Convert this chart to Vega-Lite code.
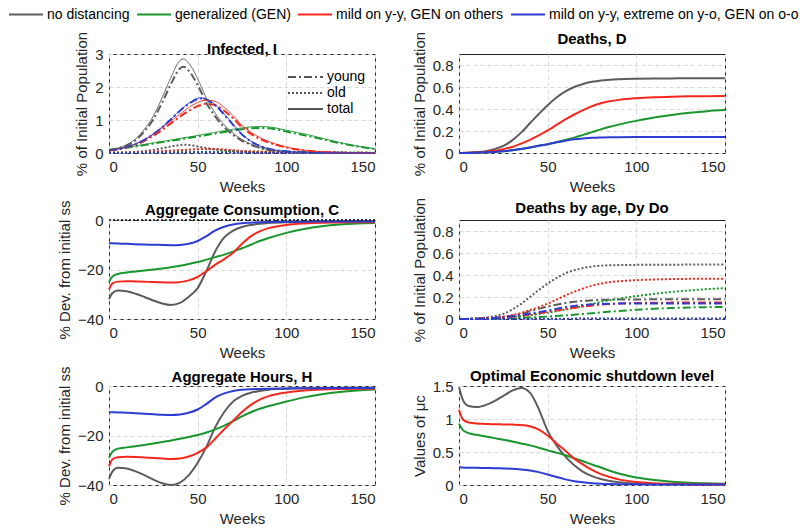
{
"$schema": "https://vega.github.io/schema/vega-lite/v6.json",
"background": "white",
"padding": {"left": 8, "top": -4, "right": 0, "bottom": 0},
"config": {
  "font": "Liberation Sans",
  "view": {"stroke": "#262626", "strokeWidth": 1},
  "axis": {"labelFont": "Liberation Sans", "labelFontSize": 15, "labelColor": "#262626", "titleFont": "Liberation Sans", "titleFontSize": 15, "titleFontWeight": "normal", "titleColor": "#262626", "gridColor": "#d9d9d9", "gridDash": [4, 3], "domain": false, "ticks": false, "labelPadding": 6, "titlePadding": 5},
  "title": {"font": "Liberation Sans", "fontSize": 15, "fontWeight": "bold", "color": "#000000", "offset": 4},
  "line": {"interpolate": "monotone", "strokeWidth": 2}
},
"datasets": {
  "inf": [
    {"s":"nd","w":0,"young":0.09,"old":0.01,"total":0.1},
    {"s":"nd","w":5,"young":0.14,"old":0.013,"total":0.15},
    {"s":"nd","w":10,"young":0.23,"old":0.02,"total":0.25},
    {"s":"nd","w":15,"young":0.39,"old":0.035,"total":0.43},
    {"s":"nd","w":20,"young":0.66,"old":0.06,"total":0.72},
    {"s":"nd","w":25,"young":1.02,"old":0.095,"total":1.12},
    {"s":"nd","w":30,"young":1.53,"old":0.145,"total":1.68},
    {"s":"nd","w":35,"young":2.1,"old":0.2,"total":2.3},
    {"s":"nd","w":40,"young":2.56,"old":0.24,"total":2.8},
    {"s":"nd","w":42,"young":2.61,"old":0.25,"total":2.85},
    {"s":"nd","w":45,"young":2.49,"old":0.24,"total":2.72},
    {"s":"nd","w":50,"young":2.06,"old":0.2,"total":2.25},
    {"s":"nd","w":55,"young":1.51,"old":0.15,"total":1.65},
    {"s":"nd","w":60,"young":1.1,"old":0.11,"total":1.2},
    {"s":"nd","w":65,"young":0.78,"old":0.08,"total":0.85},
    {"s":"nd","w":70,"young":0.55,"old":0.055,"total":0.6},
    {"s":"nd","w":75,"young":0.37,"old":0.038,"total":0.41},
    {"s":"nd","w":80,"young":0.25,"old":0.025,"total":0.27},
    {"s":"nd","w":85,"young":0.155,"old":0.016,"total":0.17},
    {"s":"nd","w":90,"young":0.09,"old":0.01,"total":0.1},
    {"s":"nd","w":100,"young":0.036,"old":0.004,"total":0.04},
    {"s":"nd","w":110,"young":0.014,"old":0.002,"total":0.015},
    {"s":"nd","w":120,"young":0.005,"old":0.001,"total":0.005},
    {"s":"nd","w":150,"young":0,"old":0,"total":0},
    {"s":"gen","w":0,"young":0.095,"old":0.005,"total":0.1},
    {"s":"gen","w":5,"young":0.12,"old":0.007,"total":0.13},
    {"s":"gen","w":10,"young":0.16,"old":0.01,"total":0.17},
    {"s":"gen","w":20,"young":0.24,"old":0.015,"total":0.26},
    {"s":"gen","w":30,"young":0.33,"old":0.022,"total":0.35},
    {"s":"gen","w":40,"young":0.41,"old":0.028,"total":0.44},
    {"s":"gen","w":50,"young":0.5,"old":0.034,"total":0.53},
    {"s":"gen","w":60,"young":0.59,"old":0.04,"total":0.63},
    {"s":"gen","w":70,"young":0.68,"old":0.045,"total":0.72},
    {"s":"gen","w":80,"young":0.75,"old":0.048,"total":0.79},
    {"s":"gen","w":85,"young":0.76,"old":0.048,"total":0.8},
    {"s":"gen","w":90,"young":0.75,"old":0.047,"total":0.79},
    {"s":"gen","w":100,"young":0.65,"old":0.043,"total":0.69},
    {"s":"gen","w":110,"young":0.54,"old":0.037,"total":0.58},
    {"s":"gen","w":120,"young":0.42,"old":0.03,"total":0.45},
    {"s":"gen","w":130,"young":0.3,"old":0.022,"total":0.32},
    {"s":"gen","w":140,"young":0.2,"old":0.015,"total":0.21},
    {"s":"gen","w":150,"young":0.12,"old":0.01,"total":0.13},
    {"s":"mild","w":0,"young":0.075,"old":0.005,"total":0.08},
    {"s":"mild","w":5,"young":0.11,"old":0.008,"total":0.12},
    {"s":"mild","w":10,"young":0.17,"old":0.012,"total":0.18},
    {"s":"mild","w":15,"young":0.25,"old":0.018,"total":0.27},
    {"s":"mild","w":20,"young":0.37,"old":0.027,"total":0.4},
    {"s":"mild","w":25,"young":0.52,"old":0.04,"total":0.56},
    {"s":"mild","w":30,"young":0.7,"old":0.055,"total":0.76},
    {"s":"mild","w":35,"young":0.9,"old":0.07,"total":0.97},
    {"s":"mild","w":40,"young":1.1,"old":0.085,"total":1.18},
    {"s":"mild","w":45,"young":1.28,"old":0.1,"total":1.38},
    {"s":"mild","w":50,"young":1.42,"old":0.115,"total":1.53},
    {"s":"mild","w":55,"young":1.49,"old":0.125,"total":1.6},
    {"s":"mild","w":60,"young":1.45,"old":0.12,"total":1.56},
    {"s":"mild","w":65,"young":1.28,"old":0.105,"total":1.38},
    {"s":"mild","w":70,"young":1.05,"old":0.085,"total":1.13},
    {"s":"mild","w":75,"young":0.78,"old":0.064,"total":0.84},
    {"s":"mild","w":80,"young":0.58,"old":0.047,"total":0.63},
    {"s":"mild","w":85,"young":0.43,"old":0.035,"total":0.47},
    {"s":"mild","w":90,"young":0.32,"old":0.026,"total":0.35},
    {"s":"mild","w":100,"young":0.17,"old":0.014,"total":0.18},
    {"s":"mild","w":110,"young":0.08,"old":0.007,"total":0.085},
    {"s":"mild","w":120,"young":0.035,"old":0.003,"total":0.038},
    {"s":"mild","w":130,"young":0.015,"old":0.001,"total":0.016},
    {"s":"mild","w":150,"young":0.003,"old":0,"total":0.003},
    {"s":"ext","w":0,"young":0.08,"old":0.002,"total":0.08},
    {"s":"ext","w":5,"young":0.12,"old":0.002,"total":0.12},
    {"s":"ext","w":10,"young":0.18,"old":0.003,"total":0.18},
    {"s":"ext","w":15,"young":0.27,"old":0.004,"total":0.28},
    {"s":"ext","w":20,"young":0.4,"old":0.005,"total":0.41},
    {"s":"ext","w":25,"young":0.57,"old":0.006,"total":0.58},
    {"s":"ext","w":30,"young":0.78,"old":0.008,"total":0.79},
    {"s":"ext","w":35,"young":1.02,"old":0.01,"total":1.03},
    {"s":"ext","w":40,"young":1.28,"old":0.011,"total":1.29},
    {"s":"ext","w":45,"young":1.49,"old":0.012,"total":1.51},
    {"s":"ext","w":50,"young":1.63,"old":0.013,"total":1.66},
    {"s":"ext","w":52,"young":1.65,"old":0.013,"total":1.67},
    {"s":"ext","w":55,"young":1.61,"old":0.013,"total":1.63},
    {"s":"ext","w":60,"young":1.44,"old":0.012,"total":1.46},
    {"s":"ext","w":65,"young":1.16,"old":0.01,"total":1.18},
    {"s":"ext","w":70,"young":0.85,"old":0.008,"total":0.87},
    {"s":"ext","w":75,"young":0.56,"old":0.005,"total":0.57},
    {"s":"ext","w":80,"young":0.355,"old":0.003,"total":0.36},
    {"s":"ext","w":85,"young":0.215,"old":0.002,"total":0.22},
    {"s":"ext","w":90,"young":0.13,"old":0.001,"total":0.13},
    {"s":"ext","w":100,"young":0.05,"old":0,"total":0.05},
    {"s":"ext","w":110,"young":0.02,"old":0,"total":0.02},
    {"s":"ext","w":120,"young":0.008,"old":0,"total":0.008},
    {"s":"ext","w":150,"young":0,"old":0,"total":0}
  ],
  "deaths": [
    {"w":0,"nd":0,"gen":0,"mild":0,"ext":0},
    {"w":2,"nd":0.001,"gen":0,"mild":0.001,"ext":0},
    {"w":5,"nd":0.003,"gen":0.001,"mild":0.002,"ext":0.001},
    {"w":10,"nd":0.008,"gen":0.003,"mild":0.005,"ext":0.003},
    {"w":15,"nd":0.017,"gen":0.005,"mild":0.01,"ext":0.006},
    {"w":20,"nd":0.035,"gen":0.01,"mild":0.02,"ext":0.01},
    {"w":25,"nd":0.065,"gen":0.016,"mild":0.035,"ext":0.016},
    {"w":30,"nd":0.115,"gen":0.025,"mild":0.055,"ext":0.025},
    {"w":35,"nd":0.185,"gen":0.036,"mild":0.085,"ext":0.036},
    {"w":40,"nd":0.27,"gen":0.05,"mild":0.12,"ext":0.05},
    {"w":45,"nd":0.355,"gen":0.065,"mild":0.16,"ext":0.065},
    {"w":50,"nd":0.435,"gen":0.08,"mild":0.205,"ext":0.08},
    {"w":55,"nd":0.505,"gen":0.098,"mild":0.255,"ext":0.097},
    {"w":60,"nd":0.56,"gen":0.118,"mild":0.305,"ext":0.112},
    {"w":65,"nd":0.6,"gen":0.14,"mild":0.35,"ext":0.124},
    {"w":70,"nd":0.628,"gen":0.165,"mild":0.39,"ext":0.132},
    {"w":75,"nd":0.647,"gen":0.19,"mild":0.425,"ext":0.138},
    {"w":80,"nd":0.66,"gen":0.215,"mild":0.452,"ext":0.141},
    {"w":85,"nd":0.667,"gen":0.238,"mild":0.47,"ext":0.143},
    {"w":90,"nd":0.671,"gen":0.258,"mild":0.483,"ext":0.144},
    {"w":100,"nd":0.675,"gen":0.292,"mild":0.498,"ext":0.145},
    {"w":110,"nd":0.677,"gen":0.322,"mild":0.507,"ext":0.145},
    {"w":120,"nd":0.678,"gen":0.346,"mild":0.512,"ext":0.145},
    {"w":130,"nd":0.679,"gen":0.365,"mild":0.515,"ext":0.145},
    {"w":140,"nd":0.679,"gen":0.38,"mild":0.517,"ext":0.145},
    {"w":150,"nd":0.68,"gen":0.39,"mild":0.518,"ext":0.145}
  ],
  "cons": [
    {"w":0,"nd":-32,"gen":-25,"mild":-28,"ext":-9.4},
    {"w":2,"nd":-29.5,"gen":-22.8,"mild":-25.6,"ext":-9.4},
    {"w":5,"nd":-28.5,"gen":-21.8,"mild":-24.9,"ext":-9.5},
    {"w":10,"nd":-28.8,"gen":-21.2,"mild":-24.7,"ext":-9.6},
    {"w":15,"nd":-29.8,"gen":-20.8,"mild":-24.8,"ext":-9.8},
    {"w":20,"nd":-31.1,"gen":-20.4,"mild":-24.9,"ext":-9.9},
    {"w":25,"nd":-32.5,"gen":-20,"mild":-25.1,"ext":-10},
    {"w":30,"nd":-33.7,"gen":-19.6,"mild":-25.2,"ext":-10.1},
    {"w":35,"nd":-34.3,"gen":-19.1,"mild":-25.3,"ext":-10.2},
    {"w":40,"nd":-33.5,"gen":-18.5,"mild":-25.1,"ext":-10.1},
    {"w":45,"nd":-31,"gen":-17.8,"mild":-24.4,"ext":-9.6},
    {"w":50,"nd":-27.5,"gen":-17,"mild":-23,"ext":-8.5},
    {"w":55,"nd":-20.5,"gen":-16,"mild":-20.6,"ext":-6.5},
    {"w":60,"nd":-12.5,"gen":-15,"mild":-18,"ext":-4.2},
    {"w":65,"nd":-7,"gen":-14,"mild":-15.8,"ext":-2.7},
    {"w":70,"nd":-4.3,"gen":-12.8,"mild":-13.2,"ext":-1.8},
    {"w":75,"nd":-2.8,"gen":-11.4,"mild":-9.6,"ext":-1.3},
    {"w":80,"nd":-2,"gen":-10,"mild":-6.6,"ext":-1.1},
    {"w":85,"nd":-1.5,"gen":-8.5,"mild":-4.6,"ext":-0.9},
    {"w":90,"nd":-1.2,"gen":-7.3,"mild":-3.3,"ext":-0.8},
    {"w":100,"nd":-0.9,"gen":-5.2,"mild":-2,"ext":-0.7},
    {"w":110,"nd":-0.8,"gen":-3.6,"mild":-1.4,"ext":-0.7},
    {"w":120,"nd":-0.7,"gen":-2.5,"mild":-1.1,"ext":-0.6},
    {"w":130,"nd":-0.7,"gen":-1.8,"mild":-1,"ext":-0.6},
    {"w":140,"nd":-0.6,"gen":-1.4,"mild":-0.9,"ext":-0.6},
    {"w":150,"nd":-0.6,"gen":-1.2,"mild":-0.9,"ext":-0.6}
  ],
  "dage": [
    {"s":"nd","w":0,"young":0,"old":0},
    {"s":"nd","w":10,"young":0.002,"old":0.006},
    {"s":"nd","w":20,"young":0.01,"old":0.025},
    {"s":"nd","w":25,"young":0.017,"old":0.047},
    {"s":"nd","w":30,"young":0.03,"old":0.085},
    {"s":"nd","w":35,"young":0.048,"old":0.137},
    {"s":"nd","w":40,"young":0.07,"old":0.2},
    {"s":"nd","w":45,"young":0.092,"old":0.263},
    {"s":"nd","w":50,"young":0.113,"old":0.322},
    {"s":"nd","w":55,"young":0.13,"old":0.373},
    {"s":"nd","w":60,"young":0.145,"old":0.415},
    {"s":"nd","w":65,"young":0.157,"old":0.443},
    {"s":"nd","w":70,"young":0.165,"old":0.463},
    {"s":"nd","w":75,"young":0.17,"old":0.477},
    {"s":"nd","w":80,"young":0.174,"old":0.485},
    {"s":"nd","w":90,"young":0.177,"old":0.49},
    {"s":"nd","w":100,"young":0.178,"old":0.492},
    {"s":"nd","w":120,"young":0.179,"old":0.494},
    {"s":"nd","w":150,"young":0.18,"old":0.495},
    {"s":"gen","w":0,"young":0,"old":0},
    {"s":"gen","w":10,"young":0.001,"old":0.002},
    {"s":"gen","w":20,"young":0.003,"old":0.006},
    {"s":"gen","w":30,"young":0.007,"old":0.018},
    {"s":"gen","w":40,"young":0.013,"old":0.035},
    {"s":"gen","w":50,"young":0.022,"old":0.058},
    {"s":"gen","w":60,"young":0.033,"old":0.085},
    {"s":"gen","w":70,"young":0.046,"old":0.117},
    {"s":"gen","w":80,"young":0.06,"old":0.155},
    {"s":"gen","w":90,"young":0.073,"old":0.185},
    {"s":"gen","w":100,"young":0.084,"old":0.208},
    {"s":"gen","w":110,"young":0.093,"old":0.229},
    {"s":"gen","w":120,"young":0.1,"old":0.246},
    {"s":"gen","w":130,"young":0.105,"old":0.26},
    {"s":"gen","w":140,"young":0.108,"old":0.272},
    {"s":"gen","w":150,"young":0.11,"old":0.28},
    {"s":"mild","w":0,"young":0,"old":0},
    {"s":"mild","w":10,"young":0.002,"old":0.003},
    {"s":"mild","w":20,"young":0.008,"old":0.012},
    {"s":"mild","w":30,"young":0.02,"old":0.035},
    {"s":"mild","w":40,"young":0.04,"old":0.08},
    {"s":"mild","w":45,"young":0.052,"old":0.108},
    {"s":"mild","w":50,"young":0.065,"old":0.14},
    {"s":"mild","w":55,"young":0.078,"old":0.177},
    {"s":"mild","w":60,"young":0.09,"old":0.215},
    {"s":"mild","w":65,"young":0.102,"old":0.248},
    {"s":"mild","w":70,"young":0.113,"old":0.277},
    {"s":"mild","w":75,"young":0.122,"old":0.303},
    {"s":"mild","w":80,"young":0.13,"old":0.322},
    {"s":"mild","w":90,"young":0.14,"old":0.343},
    {"s":"mild","w":100,"young":0.145,"old":0.353},
    {"s":"mild","w":120,"young":0.149,"old":0.363},
    {"s":"mild","w":150,"young":0.151,"old":0.367},
    {"s":"ext","w":0,"young":0,"old":0},
    {"s":"ext","w":10,"young":0.003,"old":0},
    {"s":"ext","w":20,"young":0.01,"old":0.001},
    {"s":"ext","w":30,"young":0.025,"old":0.001},
    {"s":"ext","w":40,"young":0.049,"old":0.002},
    {"s":"ext","w":50,"young":0.077,"old":0.003},
    {"s":"ext","w":60,"young":0.108,"old":0.003},
    {"s":"ext","w":70,"young":0.127,"old":0.004},
    {"s":"ext","w":80,"young":0.136,"old":0.004},
    {"s":"ext","w":90,"young":0.14,"old":0.004},
    {"s":"ext","w":100,"young":0.141,"old":0.004},
    {"s":"ext","w":150,"young":0.142,"old":0.004}
  ],
  "hours": [
    {"w":0,"nd":-37.5,"gen":-29,"mild":-32.5,"ext":-10.6},
    {"w":2,"nd":-34.5,"gen":-26.5,"mild":-29.6,"ext":-10.6},
    {"w":5,"nd":-33,"gen":-25.3,"mild":-28.8,"ext":-10.7},
    {"w":10,"nd":-33.3,"gen":-24.8,"mild":-28.6,"ext":-10.8},
    {"w":15,"nd":-34.5,"gen":-24.3,"mild":-28.7,"ext":-11},
    {"w":20,"nd":-36,"gen":-23.8,"mild":-28.9,"ext":-11.2},
    {"w":25,"nd":-37.8,"gen":-23.2,"mild":-29.1,"ext":-11.4},
    {"w":30,"nd":-39.3,"gen":-22.6,"mild":-29.3,"ext":-11.6},
    {"w":35,"nd":-40,"gen":-22,"mild":-29.5,"ext":-11.7},
    {"w":40,"nd":-39,"gen":-21.3,"mild":-29.3,"ext":-11.5},
    {"w":45,"nd":-36,"gen":-20.6,"mild":-28.5,"ext":-10.8},
    {"w":50,"nd":-31,"gen":-19.8,"mild":-27,"ext":-9.5},
    {"w":55,"nd":-24.5,"gen":-18.8,"mild":-24.8,"ext":-7.2},
    {"w":60,"nd":-16.5,"gen":-17.5,"mild":-21.2,"ext":-4.6},
    {"w":65,"nd":-10.5,"gen":-16,"mild":-17.5,"ext":-3},
    {"w":70,"nd":-6.3,"gen":-14.2,"mild":-14,"ext":-2},
    {"w":75,"nd":-4,"gen":-12.3,"mild":-10.5,"ext":-1.5},
    {"w":80,"nd":-2.7,"gen":-10.6,"mild":-7.6,"ext":-1.3},
    {"w":85,"nd":-2,"gen":-9.2,"mild":-5.5,"ext":-1.2},
    {"w":90,"nd":-1.5,"gen":-8.1,"mild":-4.1,"ext":-1.1},
    {"w":100,"nd":-1.1,"gen":-6.3,"mild":-2.6,"ext":-1},
    {"w":110,"nd":-0.9,"gen":-4.6,"mild":-1.8,"ext":-0.9},
    {"w":120,"nd":-0.8,"gen":-3.3,"mild":-1.4,"ext":-0.9},
    {"w":130,"nd":-0.8,"gen":-2.4,"mild":-1.2,"ext":-0.8},
    {"w":140,"nd":-0.7,"gen":-1.8,"mild":-1.1,"ext":-0.8},
    {"w":150,"nd":-0.7,"gen":-1.4,"mild":-1.1,"ext":-0.8}
  ],
  "mu": [
    {"w":0,"nd":1.48,"gen":0.93,"mild":1.14,"ext":0.27},
    {"w":2,"nd":1.3,"gen":0.84,"mild":1.0,"ext":0.265},
    {"w":5,"nd":1.2,"gen":0.79,"mild":0.95,"ext":0.262},
    {"w":10,"nd":1.18,"gen":0.76,"mild":0.93,"ext":0.26},
    {"w":15,"nd":1.21,"gen":0.735,"mild":0.925,"ext":0.258},
    {"w":20,"nd":1.27,"gen":0.71,"mild":0.92,"ext":0.255},
    {"w":25,"nd":1.35,"gen":0.685,"mild":0.918,"ext":0.25},
    {"w":30,"nd":1.43,"gen":0.66,"mild":0.915,"ext":0.245},
    {"w":35,"nd":1.47,"gen":0.63,"mild":0.91,"ext":0.235},
    {"w":40,"nd":1.4,"gen":0.6,"mild":0.89,"ext":0.22},
    {"w":45,"nd":1.15,"gen":0.565,"mild":0.84,"ext":0.195},
    {"w":50,"nd":0.82,"gen":0.525,"mild":0.75,"ext":0.16},
    {"w":55,"nd":0.6,"gen":0.49,"mild":0.63,"ext":0.12},
    {"w":60,"nd":0.43,"gen":0.45,"mild":0.52,"ext":0.085},
    {"w":65,"nd":0.3,"gen":0.405,"mild":0.4,"ext":0.058},
    {"w":70,"nd":0.2,"gen":0.36,"mild":0.31,"ext":0.04},
    {"w":75,"nd":0.135,"gen":0.31,"mild":0.23,"ext":0.028},
    {"w":80,"nd":0.09,"gen":0.265,"mild":0.165,"ext":0.02},
    {"w":85,"nd":0.06,"gen":0.215,"mild":0.12,"ext":0.015},
    {"w":90,"nd":0.042,"gen":0.175,"mild":0.085,"ext":0.012},
    {"w":100,"nd":0.022,"gen":0.115,"mild":0.045,"ext":0.01},
    {"w":110,"nd":0.013,"gen":0.075,"mild":0.027,"ext":0.008},
    {"w":120,"nd":0.01,"gen":0.05,"mild":0.018,"ext":0.007},
    {"w":130,"nd":0.008,"gen":0.035,"mild":0.013,"ext":0.007},
    {"w":140,"nd":0.007,"gen":0.026,"mild":0.011,"ext":0.006},
    {"w":150,"nd":0.007,"gen":0.02,"mild":0.01,"ext":0.006}
  ]
},
"columns": 2,
"spacing": {"row": 67, "column": 84},
"bounds": "flush",
"resolve": {"scale": {"strokeDash": "independent"}, "legend": {"strokeDash": "independent"}},
"concat": [
  {
    "title": {"text": "Infected, I", "offset": -26},
    "width": 266, "height": 99,
    "data": {"name": "inf"},
    "transform": [{"fold": ["young", "old", "total"], "as": ["t", "v"]}],
    "encoding": {
      "x": {"field": "w", "type": "quantitative", "scale": {"domain": [0, 150]}, "axis": {"values": [0, 50, 100, 150], "title": "Weeks"}},
      "y": {"field": "v", "type": "quantitative", "scale": {"domain": [0, 3]}, "axis": {"values": [0, 1, 2, 3], "title": "% of Initial Population"}},
      "color": {"field": "s", "type": "nominal", "scale": {"domain": ["nd", "gen", "mild", "ext"], "range": ["#5c5c5c", "#1a962e", "#f5281e", "#2d3cd2"]},
        "legend": {"orient": "none", "legendX": -101, "legendY": -57.5, "direction": "horizontal", "columns": 4, "title": null, "symbolType": "stroke", "symbolSize": 1156, "symbolStrokeWidth": 2, "labelFontSize": 14, "labelColor": "#000000", "labelOffset": 3, "columnPadding": 3, "labelLimit": 400,
          "labelExpr": "datum.label == 'nd' ? 'no distancing' : datum.label == 'gen' ? 'generalized (GEN)' : datum.label == 'mild' ? 'mild on y-y, GEN on others' : 'mild on y-y, extreme on y-o, GEN on o-o'"}},
      "strokeDash": {"field": "t", "type": "nominal", "scale": {"domain": ["young", "old", "total"], "range": [[8, 3, 2, 3], [2, 2], [1, 0]]},
        "legend": {"orient": "none", "legendX": 178, "legendY": 16, "direction": "vertical", "title": null, "symbolType": "stroke", "symbolSize": 1225, "clipHeight": 14, "symbolStrokeColor": "#555555", "symbolStrokeWidth": 1.5, "labelFontSize": 14, "labelColor": "#000000", "labelOffset": 3, "rowPadding": 2,
          "encode": {"symbols": {"update": {"stroke": {"value": "#555555"}}}}}}
    },
    "layer": [
      {"transform": [{"filter": "datum.t !== 'total'"}], "mark": {"type": "line", "strokeWidth": 2}},
      {"transform": [{"filter": "datum.t === 'total'"}], "mark": {"type": "line", "strokeWidth": 1}}
    ]
  },
  {
    "title": {"text": "Deaths, D", "offset": -16},
    "width": 266, "height": 99,
    "data": {"name": "deaths"},
    "transform": [{"fold": ["nd", "gen", "mild", "ext"], "as": ["s", "v"]}],
    "mark": "line",
    "encoding": {
      "x": {"field": "w", "type": "quantitative", "scale": {"domain": [0, 150]}, "axis": {"values": [0, 50, 100, 150], "title": "Weeks"}},
      "y": {"field": "v", "type": "quantitative", "scale": {"domain": [0, 0.9]}, "axis": {"values": [0, 0.2, 0.4, 0.6, 0.8], "format": "~g", "title": "% of Initial Population"}},
      "color": {"field": "s", "type": "nominal", "scale": {"domain": ["nd", "gen", "mild", "ext"], "range": ["#5c5c5c", "#1a962e", "#f5281e", "#2d3cd2"]}, "legend": null}
    }
  },
  {
    "title": {"text": "Aggregate Consumption, C", "offset": -18},
    "width": 266, "height": 99,
    "layer": [
      {
        "data": {"name": "cons"},
        "transform": [{"fold": ["nd", "gen", "mild", "ext"], "as": ["s", "v"]}],
        "mark": "line",
        "encoding": {
          "x": {"field": "w", "type": "quantitative", "scale": {"domain": [0, 150]}, "axis": {"values": [0, 50, 100, 150], "title": "Weeks"}},
          "y": {"field": "v", "type": "quantitative", "scale": {"domain": [-40, 0]}, "axis": {"values": [-40, -20, 0], "title": "% Dev. from initial ss"}},
          "color": {"field": "s", "type": "nominal", "scale": {"domain": ["nd", "gen", "mild", "ext"], "range": ["#5c5c5c", "#1a962e", "#f5281e", "#2d3cd2"]}, "legend": null}
        }
      },
      {
        "data": {"values": [{"z": 0}]},
        "mark": {"type": "rule", "color": "#000000", "strokeDash": [2, 2], "strokeWidth": 1.5},
        "encoding": {"y": {"field": "z", "type": "quantitative"}}
      }
    ]
  },
  {
    "title": {"text": "Deaths by age, Dy Do", "offset": -19},
    "width": 266, "height": 99,
    "data": {"name": "dage"},
    "transform": [{"fold": ["young", "old"], "as": ["t", "v"]}],
    "mark": {"type": "line", "strokeWidth": 2},
    "encoding": {
      "x": {"field": "w", "type": "quantitative", "scale": {"domain": [0, 150]}, "axis": {"values": [0, 50, 100, 150], "title": "Weeks"}},
      "y": {"field": "v", "type": "quantitative", "scale": {"domain": [0, 0.9]}, "axis": {"values": [0, 0.2, 0.4, 0.6, 0.8], "format": "~g", "title": "% of Initial Population"}},
      "color": {"field": "s", "type": "nominal", "scale": {"domain": ["nd", "gen", "mild", "ext"], "range": ["#5c5c5c", "#1a962e", "#f5281e", "#2d3cd2"]}, "legend": null},
      "strokeDash": {"field": "t", "type": "nominal", "scale": {"domain": ["young", "old"], "range": [[8, 3, 2, 3], [2, 2]]}, "legend": null}
    }
  },
  {
    "title": {"text": "Aggregate Hours, H", "offset": -19},
    "width": 266, "height": 99,
    "data": {"name": "hours"},
    "transform": [{"fold": ["nd", "gen", "mild", "ext"], "as": ["s", "v"]}],
    "mark": "line",
    "encoding": {
      "x": {"field": "w", "type": "quantitative", "scale": {"domain": [0, 150]}, "axis": {"values": [0, 50, 100, 150], "title": "Weeks"}},
      "y": {"field": "v", "type": "quantitative", "scale": {"domain": [-40, 0]}, "axis": {"values": [-40, -20, 0], "title": "% Dev. from initial ss"}},
      "color": {"field": "s", "type": "nominal", "scale": {"domain": ["nd", "gen", "mild", "ext"], "range": ["#5c5c5c", "#1a962e", "#f5281e", "#2d3cd2"]}, "legend": null}
    }
  },
  {
    "title": {"text": "Optimal Economic shutdown level", "offset": -5},
    "width": 266, "height": 99,
    "data": {"name": "mu"},
    "transform": [{"fold": ["nd", "gen", "mild", "ext"], "as": ["s", "v"]}],
    "mark": "line",
    "encoding": {
      "x": {"field": "w", "type": "quantitative", "scale": {"domain": [0, 150]}, "axis": {"values": [0, 50, 100, 150], "title": "Weeks"}},
      "y": {"field": "v", "type": "quantitative", "scale": {"domain": [0, 1.5]}, "axis": {"values": [0, 0.5, 1, 1.5], "format": "~g", "title": "Values of μc"}},
      "color": {"field": "s", "type": "nominal", "scale": {"domain": ["nd", "gen", "mild", "ext"], "range": ["#5c5c5c", "#1a962e", "#f5281e", "#2d3cd2"]}, "legend": null}
    }
  }
]
}
